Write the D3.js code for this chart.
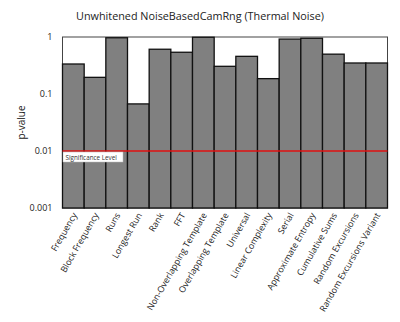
<!DOCTYPE html>
<html><head><meta charset="utf-8">
<script src="https://cdn.jsdelivr.net/npm/d3@7"></script>
<style>body{margin:0;background:#fff}svg{display:block}</style>
</head><body><svg id="c" width="400" height="322"></svg>
<script>
const categories = ["Frequency","Block Frequency","Runs","Longest Run","Rank","FFT","Non-Overlapping Template","Overlapping Template","Universal","Linear Complexity","Serial","Approximate Entropy","Cumulative Sums","Random Excursions","Random Excursions Variant"];
const pValues = [0.336,0.196,0.97,0.067,0.61,0.54,0.99,0.306,0.458,0.186,0.92,0.95,0.50,0.35,0.35];
const yTicks = [0.001,0.01,0.1,1];
const yTickLabels = ["0.001","0.01","0.1","1"];
const significance = 0.01;
const title = "Unwhitened NoiseBasedCamRng (Thermal Noise)";

const svg = d3.select("#c");
const font = "Open Sans, sans-serif";
const L=62.5, R=387.5, T=37, B=208;
const x = d3.scaleBand().domain(categories).range([L,R]).padding(0);
const y = d3.scaleLog().domain([0.001,1]).range([B,T]);

svg.append("text").attr("x",200).attr("y",20).attr("text-anchor","middle")
  .attr("font-family",font).attr("font-size",10.8).attr("fill","#222").text(title);

svg.append("rect").attr("x",L).attr("y",T).attr("width",R-L).attr("height",B-T)
  .attr("fill","#fff").attr("stroke","#444").attr("stroke-width",1);

svg.selectAll("rect.bar").data(categories).enter().append("rect").attr("class","bar")
  .attr("x",d=>x(d)).attr("width",x.bandwidth())
  .attr("y",(d,i)=>y(pValues[i])).attr("height",(d,i)=>B-y(pValues[i]))
  .attr("fill","#808080").attr("stroke","#111").attr("stroke-width",1.3);

const yAxis = d3.axisLeft(y).tickValues(yTicks).tickFormat((d,i)=>yTickLabels[i]).tickSize(0).tickPadding(10);
const ga = svg.append("g").attr("transform",`translate(${L},0)`).call(yAxis);
ga.select(".domain").remove();
ga.selectAll("text").attr("font-family",font).attr("font-size",9).attr("fill","#222");

svg.append("line").attr("x1",L).attr("x2",R).attr("y1",y(significance)).attr("y2",y(significance))
  .attr("stroke","#e01010").attr("stroke-width",1.5);
svg.append("rect").attr("x",L+0.5).attr("y",y(significance)+1).attr("width",60).attr("height",10)
  .attr("fill","#fff").attr("stroke","#bbb").attr("stroke-width",0.5);
svg.append("text").attr("x",L+3).attr("y",y(significance)+8.5)
  .attr("font-family",font).attr("font-size",6.3).attr("fill","#333").text("Significance Level");

svg.append("text").attr("transform",`translate(25,${(T+B)/2}) rotate(-90)`).attr("text-anchor","middle")
  .attr("font-family",font).attr("font-size",10).attr("fill","#222").text("p-value");

const xAxis = d3.axisBottom(x).tickSize(0).tickPadding(0);
const gx = svg.append("g").attr("transform",`translate(0,${B})`).call(xAxis);
gx.select(".domain").remove();
gx.selectAll("text").attr("font-family",font).attr("font-size",8.8).attr("fill","#222")
  .attr("text-anchor","end").attr("dy",0).attr("y",0)
  .attr("transform","translate(4,7) rotate(-60)");
</script></body></html>
